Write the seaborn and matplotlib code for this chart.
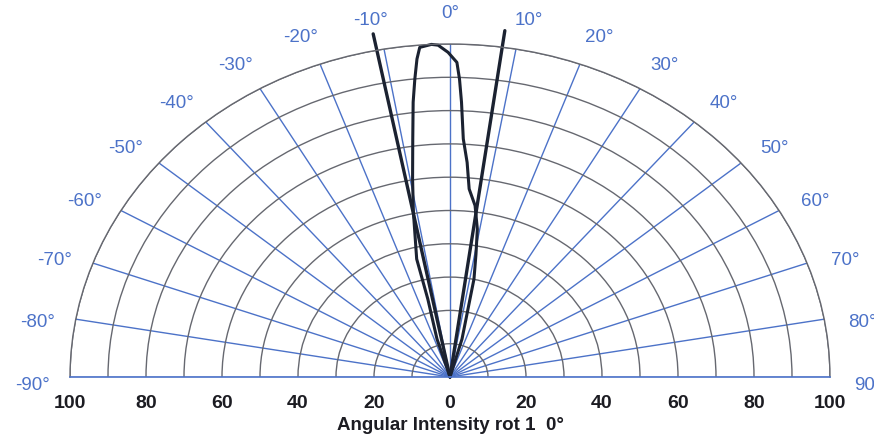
import numpy as np
import pandas as pd
import matplotlib
matplotlib.use("Agg")
import matplotlib.pyplot as plt
import seaborn as sns

# measured lobe (angle in degrees, relative intensity in %)
lobe_angle = [0, -16.7, -14.0, -13.9, -11.0, -9.4, -7.8, -6.7, -5.9, -5.2, -4.6,
              -2.8, -1.8, -0.3, 1.1, 1.6, 2.1, 2.8, 4.0, 5.1, 7.3, 9.2, 10.5,
              12.1, 15.5, 0]
lobe_intensity = [0, 11.9, 24.1, 36.5, 50.5, 60.3, 72.2, 83.1, 90.0, 95.9, 99.3,
                  100.0, 99.7, 97.5, 94.5, 89.5, 82.6, 71.6, 64.6, 56.7, 51.9, 45.0,
                  37.5, 30.1, 11.8, 0]

# half-angle marker lines
marker_angle = [-11.1, 7.9]
marker_length = 105

angle_ticks = list(range(-90, 91, 10))
ring_values = list(range(10, 101, 10))
intensity_ticks = list(range(-100, 101, 20))

blue = "#4c72c8"
ring_col = "#666870"
ink = "#1b2231"

sns.set_style("white")
plt.rcParams["font.family"] = ["Liberation Sans", "DejaVu Sans"]

fig = plt.figure(figsize=(8.74, 4.39), dpi=100)

# the half disc is drawn inside a square wedge box, so the polar box is
# twice as tall as the visible half disc and reaches past the figure
cx, cy, rx, ry = 450, 378, 380, 333
polar_rect = [(cx - rx) / 874, 1 - (cy + ry / 2) / 439, 2 * rx / 874, 2 * ry / 439]
ax = fig.add_axes(polar_rect, projection="polar")
ax.set_theta_zero_location("N")
ax.set_theta_direction(-1)
ax.set_thetamin(-90)
ax.set_thetamax(90)
ax.set_ylim(0, 100)
ax.set_aspect("auto")

ax.set_xticks(np.deg2rad(angle_ticks))
ax.set_xticklabels([])
ax.set_yticks(ring_values)
ax.set_yticklabels([])
ax.xaxis.grid(True, color=blue, lw=1.0)
ax.yaxis.grid(True, color=ring_col, lw=1.0)
ax.spines["polar"].set_color(ring_col)
ax.spines["polar"].set_linewidth(1.0)
for s in ["start", "end"]:
    ax.spines[s].set_color(blue)
    ax.spines[s].set_linewidth(1.2)
ax.tick_params(length=0)

lobe = pd.DataFrame({"theta": np.deg2rad(lobe_angle), "r": lobe_intensity})
sns.lineplot(data=lobe, x="theta", y="r", sort=False, estimator=None,
             color=ink, lw=2.2, ax=ax)

rays = pd.DataFrame({
    "theta": np.deg2rad([a for a in marker_angle for _ in range(2)]),
    "r": [0, marker_length] * len(marker_angle),
    "line": [i for i in range(len(marker_angle)) for _ in range(2)],
})
sns.lineplot(data=rays, x="theta", y="r", units="line", sort=False,
             estimator=None, color=ink, lw=2.4, ax=ax)
for ln in ax.lines:
    ln.set_clip_on(False)
ax.set_xlabel("")
ax.set_ylabel("")

# angle labels sit a little past each spoke, as on the original sheet
for a in angle_ticks:
    ax.text(np.deg2rad(a + 0.9 * np.sign(a)), 110, f"{a}°", color=blue,
            fontsize=13.5, ha="center", va="center_baseline", clip_on=False)

# linear intensity scale under the half-circle
rect = [(cx - rx) / 874, 1 - cy / 439, 2 * rx / 874, ry / 439]
ax2 = fig.add_axes(rect)
ax2.patch.set_visible(False)
ax2.set_xlim(-100, 100)
ax2.set_ylim(0, 1)
ax2.set_yticks([])
ax2.set_xticks(intensity_ticks)
ax2.set_xticklabels([str(abs(v)) for v in intensity_ticks], fontsize=14,
                    color="#1c1c22", fontweight="bold")
ax2.tick_params(axis="x", length=0, pad=12)
for s in ax2.spines.values():
    s.set_visible(False)
ax2.set_xlabel("Angular Intensity rot 1  0°", fontsize=13.5, color="#1c1c22",
               fontweight="bold", labelpad=4)

fig.savefig("out.png", dpi=100)
